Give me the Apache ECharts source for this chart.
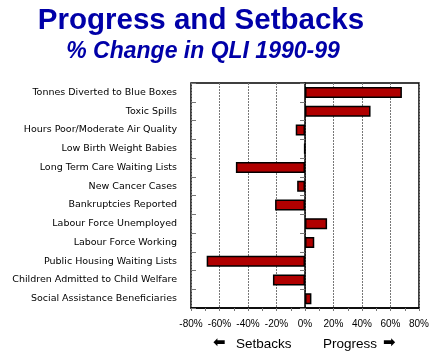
<!DOCTYPE html>
<html>
<head>
<meta charset="utf-8">
<script src="https://cdn.jsdelivr.net/npm/echarts@6/dist/echarts.min.js"></script>
<style>
  html, body { margin: 0; padding: 0; background: #fff; }
  #chart { width: 433px; height: 353px; }
</style>
</head>
<body>
<div id="chart"></div>
<script>
// 指标名称，从上到下
var categories = [
  'Tonnes Diverted to Blue Boxes',
  'Toxic Spills',
  'Hours Poor/Moderate Air Quality',
  'Low Birth Weight Babies',
  'Long Term Care Waiting Lists',
  'New Cancer Cases',
  'Bankruptcies Reported',
  'Labour Force Unemployed',
  'Labour Force Working',
  'Public Housing Waiting Lists',
  'Children Admitted to Child Welfare',
  'Social Assistance Beneficiaries'
];
// 1990-99 变化百分比
var changes = [68, 46, -6.5, -0.5, -48.5, -5.5, -21, 15.5, 6.5, -69, -22.5, 4.5];
// x轴刻度
var tickMin = -80, tickMax = 80, tickStep = 20;

var chart = echarts.init(document.getElementById('chart'));

var option = {
  backgroundColor: '#fff',
  animation: false,
  title: [{
    text: 'Progress and Setbacks',
    left: 196,
    top: 1,
    textAlign: 'center',
    textStyle: {
      fontFamily: 'Liberation Sans',
      fontWeight: 'bold',
      fontSize: 29.5,
      color: '#0000A8'
    }
  }, {
    text: '% Change in QLI 1990-99',
    left: 198,
    top: 35,
    textAlign: 'center',
    textStyle: {
      fontFamily: 'Liberation Sans',
      fontWeight: 'bold',
      fontStyle: 'italic',
      fontSize: 23,
      color: '#0000A8'
    }
  }],
  grid: {
    left: 191,
    right: 14,
    top: 83,
    bottom: 45,
    show: true,
    borderColor: '#000',
    borderWidth: 1.5
  },
  xAxis: {
    type: 'value',
    min: tickMin,
    max: tickMax,
    interval: tickStep,
    axisLine: { show: true, lineStyle: { color: '#000', width: 1.5 } },
    axisTick: { show: true, length: 3, lineStyle: { color: '#777' } },
    minorTick: { show: true, splitNumber: 2, length: 3, lineStyle: { color: '#777' } },
    splitLine: { show: true, lineStyle: { color: '#777', type: [2, 1], width: 1 } },
    axisLabel: {
      formatter: '{value}%',
      margin: 11,
      fontFamily: 'Liberation Sans',
      fontSize: 10,
      color: '#000'
    }
  },
  yAxis: [{
    type: 'category',
    data: categories,
    inverse: true,
    axisLine: { show: true, lineStyle: { color: '#000', width: 1.5 } },
    axisTick: { show: true, length: 5, lineStyle: { color: '#777' } },
    axisLabel: {
      margin: 14,
      fontFamily: 'DejaVu Sans',
      fontSize: 9.5,
      color: '#000'
    }
  }, {
    // 轴内侧的短刻度
    type: 'category',
    data: categories,
    inverse: true,
    position: 'left',
    axisLine: { show: false },
    axisTick: { show: true, inside: true, length: 5, lineStyle: { color: '#777' } },
    axisLabel: { show: false }
  }],
  graphic: [{
    type: 'text',
    left: 213,
    top: 336,
    style: { text: '⬅', font: 'bold 15px DejaVu Sans', fill: '#000' }
  }, {
    type: 'text',
    left: 236,
    top: 337,
    style: { text: 'Setbacks', font: '13.5px Liberation Sans', fill: '#000' }
  }, {
    type: 'text',
    left: 323,
    top: 337,
    style: { text: 'Progress', font: '13.5px Liberation Sans', fill: '#000' }
  }, {
    type: 'text',
    left: 383,
    top: 336,
    style: { text: '➡', font: 'bold 15px DejaVu Sans', fill: '#000' }
  }],
  series: [{
    name: '% Change',
    type: 'bar',
    data: changes,
    barWidth: 11,
    itemStyle: {
      color: '#B00000',
      borderColor: '#000',
      borderWidth: 1.5
    }
  }]
};

chart.setOption(option);
</script>
</body>
</html>
